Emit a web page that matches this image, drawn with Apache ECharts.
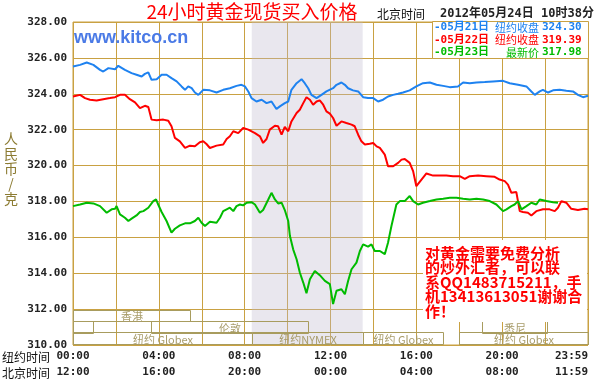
<!DOCTYPE html>
<html><head><meta charset="utf-8">
<script src="https://cdn.jsdelivr.net/npm/echarts@6/dist/echarts.min.js"></script>
<style>html,body{margin:0;padding:0;background:#fff}#c{width:599px;height:380px}</style>
</head><body><div id="c"></div>
<script>
// ---- data ----
const titleText = '24小时黄金现货买入价格';
const headerLabel = '北京时间';
const headerTime = '2012年05月24日 10时38分';
const watermark = 'www.kitco.cn';
const yAxisName = '人\n民\n币\n/\n克';
const rowNames = ['纽约时间', '北京时间'];
const nyTicks = ['00:00', '04:00', '08:00', '12:00', '16:00', '20:00', '23:59'];
const bjTicks = ['12:00', '16:00', '20:00', '00:00', '04:00', '08:00', '11:59'];
const legendDates = ['-05月21日', '-05月22日', '-05月23日'];
const legendLabels = ['纽约收盘', '纽约收盘', '最新价'];
const legendValues = ['324.30', '319.39', '317.98'];
const noteLines = ['对黄金需要免费分析', '的炒外汇者，可以联', '系QQ1483715211，手', '机13413613051谢谢合', '作！'];
const nymexHours = [8.33, 13.5];
// market sessions: [start hour, end hour, row]
const sessionSpans = [[0, 5.45, 0], [0, 0.93, 1], [3.63, 10.95, 1], [19.06, 22.07, 1], [0, 8.33, 2], [8.33, 13.5, 2], [13.5, 17.24, 2], [18.0, 24, 2]];
const sessionNames = ['香港', '', '伦敦', '悉尼', '纽约 Globex', '纽约NYMEX', '纽约 Globex', '纽约 Globex'];

const blueData = [[0,325.52],[0.33,325.61],[0.64,325.74],[0.95,325.61],[1.26,325.33],[1.41,325.24],[1.65,325.43],[1.96,325.37],[2.11,325.56],[2.42,325.33],[2.73,325.15],[2.96,325.06],[3.20,324.96],[3.35,325.11],[3.51,325.19],[3.66,324.78],[3.90,324.81],[4.13,325.06],[4.36,325.06],[4.59,324.87],[4.83,324.69],[5.06,324.41],[5.22,324.22],[5.37,324.41],[5.53,324.31],[5.68,324.07],[5.84,323.94],[6.07,324.22],[6.38,324.19],[6.69,324.07],[7.00,324.22],[7.31,324.31],[7.62,324.44],[7.85,324.50],[8.01,324.41],[8.17,324.13],[8.32,323.76],[8.55,323.57],[8.79,323.67],[9.02,323.48],[9.25,323.57],[9.48,323.15],[9.64,323.30],[9.87,323.48],[10.03,323.57],[10.18,324.22],[10.42,324.59],[10.65,324.81],[10.80,324.59],[10.96,324.31],[11.11,323.94],[11.35,323.76],[11.58,323.94],[11.81,324.13],[12.12,324.31],[12.28,324.50],[12.51,324.63],[12.67,324.50],[12.82,324.31],[13.05,324.19],[13.29,324.13],[13.52,323.81],[13.75,323.76],[13.99,323.76],[14.22,323.57],[14.45,323.67],[14.68,323.85],[14.92,323.94],[15.15,324.00],[15.38,324.07],[15.69,324.19],[16.00,324.41],[16.31,324.59],[16.63,324.63],[16.94,324.50],[17.25,324.44],[17.56,324.37],[17.94,324.41],[18.18,324.63],[18.49,324.59],[18.80,324.63],[19.19,324.65],[19.57,324.69],[20.04,324.72],[20.35,324.59],[20.74,324.50],[21.13,324.41],[21.36,324.13],[21.52,323.94],[21.75,324.13],[21.90,324.22],[22.14,324.07],[22.37,324.19],[22.68,324.22],[22.99,324.17],[23.30,324.13],[23.53,323.94],[23.77,323.81],[24.00,323.89]];

const redData = [[0,323.85],[0.33,323.94],[0.56,323.76],[0.79,323.67],[1.10,323.63],[1.41,323.70],[1.72,323.76],[1.96,323.81],[2.19,323.94],[2.42,323.94],[2.65,323.70],[2.89,323.52],[3.12,323.20],[3.35,323.33],[3.51,323.26],[3.66,322.56],[3.90,322.52],[4.21,322.56],[4.44,322.50],[4.59,322.19],[4.75,321.54],[4.98,321.35],[5.22,320.98],[5.45,321.11],[5.68,321.07],[5.91,321.30],[6.07,321.35],[6.22,321.20],[6.38,320.98],[6.69,321.11],[7.00,321.17],[7.16,321.48],[7.31,321.63],[7.47,321.91],[7.70,321.81],[7.93,322.09],[8.17,322.00],[8.48,321.81],[8.71,321.63],[8.86,321.26],[9.02,321.48],[9.17,322.00],[9.41,322.22],[9.56,322.19],[9.72,321.72],[9.87,322.15],[10.03,321.91],[10.18,322.46],[10.42,322.93],[10.57,323.11],[10.73,323.48],[10.88,323.81],[11.04,323.67],[11.19,323.39],[11.35,323.57],[11.50,323.63],[11.66,323.39],[11.81,323.02],[11.97,322.89],[12.12,322.65],[12.28,322.22],[12.51,322.46],[12.74,322.37],[12.98,322.28],[13.13,322.19],[13.29,321.72],[13.44,321.35],[13.60,321.17],[13.83,321.22],[13.99,321.26],[14.15,321.07],[14.30,320.98],[14.53,320.61],[14.68,319.96],[14.92,319.96],[15.15,320.15],[15.31,320.33],[15.46,320.37],[15.69,320.15],[15.85,319.69],[16.00,318.85],[16.24,319.22],[16.47,319.56],[16.78,319.44],[17.09,319.44],[17.40,319.44],[17.71,319.41],[18.02,319.41],[18.26,319.26],[18.49,319.41],[18.88,319.44],[19.26,319.41],[19.65,319.37],[19.88,319.22],[20.12,319.13],[20.27,318.94],[20.43,318.48],[20.66,318.52],[20.82,317.46],[20.97,317.41],[21.20,317.37],[21.36,317.22],[21.59,317.46],[21.90,317.56],[22.21,317.56],[22.45,317.46],[22.60,317.65],[22.76,318.02],[22.99,317.93],[23.22,317.59],[23.53,317.52],[23.84,317.59],[24.00,317.56]];

const greenData = [[0,317.74],[0.33,317.83],[0.64,317.93],[0.95,317.89],[1.26,317.74],[1.57,317.37],[1.80,317.56],[1.96,317.59],[2.03,317.74],[2.19,317.28],[2.42,317.09],[2.58,316.91],[2.73,317.04],[2.96,317.22],[3.12,317.41],[3.28,317.46],[3.51,317.65],[3.74,318.02],[3.87,318.11],[3.97,317.83],[4.13,317.41],[4.36,316.91],[4.59,316.26],[4.75,316.48],[4.98,316.67],[5.22,316.78],[5.45,316.78],[5.68,316.91],[5.84,317.09],[5.99,316.81],[6.15,316.63],[6.38,316.87],[6.69,316.81],[6.85,317.09],[7.00,317.46],[7.16,317.56],[7.31,317.65],[7.47,317.46],[7.62,317.74],[7.78,317.83],[7.93,317.78],[8.09,317.93],[8.32,317.96],[8.48,317.83],[8.71,317.37],[8.86,317.52],[9.10,318.11],[9.25,318.48],[9.41,318.11],[9.56,317.89],[9.72,317.93],[9.87,317.52],[10.03,316.91],[10.11,316.07],[10.26,315.33],[10.42,314.78],[10.57,314.04],[10.73,313.48],[10.88,312.89],[11.04,313.67],[11.27,314.13],[11.50,313.89],[11.74,313.57],[11.97,313.39],[12.12,312.28],[12.28,313.02],[12.51,313.11],[12.67,312.83],[12.82,313.57],[12.98,314.22],[13.21,314.59],[13.37,315.24],[13.52,315.61],[13.75,315.48],[13.91,315.61],[14.06,315.24],[14.30,315.24],[14.53,315.06],[14.68,315.70],[14.84,316.63],[15.07,317.83],[15.23,318.02],[15.46,318.02],[15.69,318.30],[15.85,318.02],[16.08,317.83],[16.31,317.93],[16.63,318.02],[16.94,318.11],[17.25,318.15],[17.56,318.20],[17.87,318.20],[18.18,318.15],[18.49,318.11],[18.80,318.15],[19.11,318.11],[19.42,318.02],[19.73,317.83],[20.04,317.46],[20.20,317.56],[20.43,317.74],[20.58,317.83],[20.74,318.02],[20.90,317.56],[21.13,317.74],[21.36,317.93],[21.59,317.83],[21.75,318.11],[22.06,318.02],[22.37,317.96],[22.60,317.93]];

// ---- chart ----
const GOLD = '#c9a142';
const OLIVE = '#a89c5e';
const seriesColors = ['#1e82f0', '#ff0000', '#00bb00'];
const MONO = '"DejaVu Sans Mono", monospace';
const CJK = '"Noto Sans CJK SC", sans-serif';

const chart = echarts.init(document.getElementById('c'), null, {renderer: 'canvas'});

const rowTop = [311.94, 311.35, 310.70];
const rowBot = [311.35, 310.70, 310.05];

const graphics = [
  {type: 'text', z: 100, x: 252, y: 12, style: {text: titleText, fill: '#ff0000', font: '19px ' + CJK, align: 'center', verticalAlign: 'middle'}},
  {type: 'text', z: 100, x: 377, y: 14, style: {text: headerLabel, fill: '#111', font: '12px ' + CJK, align: 'left', verticalAlign: 'middle'}},
  {type: 'text', z: 100, x: 440, y: 14, style: {text: headerTime, fill: '#222', font: 'bold 12px "DejaVu Sans Mono", "Noto Sans CJK SC", monospace', align: 'left', verticalAlign: 'middle'}},
  {type: 'text', z: 100, x: 74, y: 38, style: {text: watermark, fill: '#4a7ae6', font: 'bold 18px "Liberation Sans", Arial, sans-serif', align: 'left', verticalAlign: 'middle'}},
  {type: 'text', z: 100, x: 11, y: 169, style: {text: yAxisName, fill: '#8c7b32', font: '14px ' + CJK, lineHeight: 15, align: 'center', verticalAlign: 'middle'}},
  {type: 'rect', z: 100, shape: {x: 432.5, y: 21.5, width: 156, height: 37}, style: {fill: '#fff', stroke: GOLD, lineWidth: 1}},
  {type: 'rect', z: 100, shape: {x: 423, y: 240, width: 164, height: 82}, style: {fill: '#fff', stroke: null}},
  {type: 'text', z: 101, x: 425, y: 246, style: {text: noteLines.join('\n'), fill: '#ff0000', font: 'bold 15px ' + CJK, lineHeight: 14.5, align: 'left', verticalAlign: 'top'}}
];
rowNames.forEach((n, i) => graphics.push({type: 'text', z: 100, x: 2, y: 357 + i * 16, style: {text: n, fill: '#111', font: '12px ' + CJK, align: 'left', verticalAlign: 'middle'}}));
legendDates.forEach((d, i) => {
  const y = 27.5 + i * 12.5;
  graphics.push({type: 'text', z: 101, x: 434, y: y, style: {text: d, fill: seriesColors[i], font: 'bold 11px "DejaVu Sans Mono", "Noto Sans CJK SC", monospace', align: 'left', verticalAlign: 'middle'}});
  graphics.push({type: 'text', z: 101, x: 539, y: y, style: {text: legendLabels[i], fill: seriesColors[i], font: '11px ' + CJK, align: 'right', verticalAlign: 'middle'}});
  graphics.push({type: 'text', z: 101, x: 542, y: y, style: {text: legendValues[i], fill: seriesColors[i], font: 'bold 11px ' + MONO, align: 'left', verticalAlign: 'middle'}});
});

const lineSeries = (data, color) => ({
  type: 'line', data: data, showSymbol: false, symbol: 'none', smooth: false,
  lineStyle: {color: color, width: 2}, z: 3, silent: true
});

const option = {
  animation: false,
  backgroundColor: '#fff',
  grid: {left: 73, right: 11, top: 22, bottom: 34, show: true, borderColor: GOLD, borderWidth: 1, backgroundColor: 'transparent'},
  xAxis: {
    type: 'value', min: 0, max: 24, interval: 2,
    axisLine: {show: false}, axisTick: {show: false},
    splitLine: {show: true, lineStyle: {color: GOLD, width: 1}},
    axisLabel: {
      margin: 3, lineHeight: 16, fontFamily: 'DejaVu Sans Mono', fontWeight: 'bold', fontSize: 11, color: '#222',
      showMaxLabel: true, showMinLabel: true, alignMaxLabel: 'right',
      formatter: v => (v % 4 === 0 ? nyTicks[v / 4] + '\n' + bjTicks[v / 4] : '')
    }
  },
  yAxis: {
    type: 'value', min: 310, max: 328, interval: 2,
    axisLine: {show: false}, axisTick: {show: false},
    splitLine: {show: true, lineStyle: {color: GOLD, width: 1}},
    axisLabel: {margin: 6, fontFamily: 'DejaVu Sans Mono', fontWeight: 'bold', fontSize: 11, color: '#222', formatter: v => v.toFixed(2)}
  },
  graphic: graphics,
  series: [
    Object.assign(lineSeries(blueData, seriesColors[0]), {
      markArea: {silent: true, itemStyle: {color: 'rgba(190,184,205,0.34)'}, data: [[{xAxis: nymexHours[0]}, {xAxis: nymexHours[1]}]]}
    }),
    lineSeries(redData, seriesColors[1]),
    lineSeries(greenData, seriesColors[2]),
    {
      type: 'custom', silent: true, z: 2,
      data: sessionSpans,
      renderItem: (params, api) => {
        const s = api.value(0), e = api.value(1), r = api.value(2);
        const p1 = api.coord([s, rowTop[r]]);
        const p2 = api.coord([e, rowBot[r]]);
        const x = Math.round(p1[0]) + 0.5, y = Math.round(p1[1]) + 0.5;
        const w = Math.round(p2[0] - p1[0]), h = Math.round(p2[1] - p1[1]);
        return {
          type: 'group',
          children: [
            {type: 'rect', shape: {x: x, y: y, width: w, height: h}, style: {fill: 'none', stroke: OLIVE, lineWidth: 1}},
            {type: 'text', style: {text: sessionNames[params.dataIndex], x: x + w / 2, y: y + h / 2 + 1, align: 'center', verticalAlign: 'middle', fill: '#a89c6a', font: '11px ' + CJK}}
          ]
        };
      }
    }
  ]
};
chart.setOption(option);
</script>
</body></html>
